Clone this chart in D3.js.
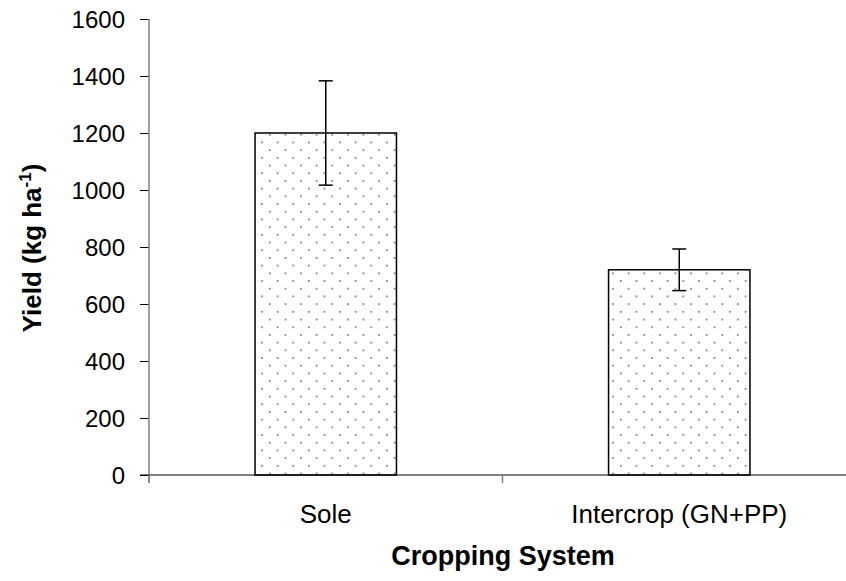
<!DOCTYPE html>
<html><head><meta charset="utf-8">
<script src="https://cdn.jsdelivr.net/npm/d3@7"></script>
<style>body{margin:0;background:#fff}svg{display:block}text{font-family:"Liberation Sans",Arial,sans-serif}</style>
</head><body><svg id="c" width="846" height="581"></svg>
<script>
const categories = ["Sole", "Intercrop (GN+PP)"];
const yieldValues = [1200, 720];
const errorValues = [183, 73];
const yTicks = [0, 200, 400, 600, 800, 1000, 1200, 1400, 1600];

(function(){
const svg = d3.select("#c");
const mL = 149, mR = 856, mT = 19, mB = 475;
const x = d3.scaleBand().domain(categories).range([mL, mR]).paddingInner(0.6).paddingOuter(0.3);
const y = d3.scaleLinear().domain([0, 1600]).range([mB, mT]);

const defs = svg.append("defs");
const pat = defs.append("pattern").attr("id","dots").attr("patternUnits","userSpaceOnUse")
  .attr("width",15.6).attr("height",15.4).attr("x",mL).attr("y",0);
pat.append("rect").attr("width",15.6).attr("height",15.4).attr("fill","#fff");
pat.append("rect").attr("x",3).attr("y",3).attr("width",1.6).attr("height",1.6).attr("fill","#666");
pat.append("rect").attr("x",10.8).attr("y",10.7).attr("width",1.6).attr("height",1.6).attr("fill","#666");

svg.selectAll(".bar").data(categories).enter().append("rect")
  .attr("x", d => x(d)).attr("width", x.bandwidth())
  .attr("y", (d,i) => y(yieldValues[i])).attr("height", (d,i) => y(0) - y(yieldValues[i]))
  .attr("fill","url(#dots)").attr("stroke","#000").attr("stroke-width",1.5);

const yAxis = svg.append("g").attr("transform",`translate(${mL},0)`)
  .call(d3.axisLeft(y).tickValues(yTicks).tickFormat(d3.format("d")).tickSize(9).tickPadding(15));
yAxis.select(".domain").remove();
yAxis.append("line").attr("x1",0).attr("x2",0).attr("y1",mT).attr("y2",mB+8)
  .attr("stroke","#808080").attr("stroke-width",1.5);
yAxis.selectAll(".tick line").attr("stroke","#000").attr("stroke-width",1);
yAxis.selectAll(".tick text").attr("font-size",24).attr("fill","#000").attr("dy","0.35em");

const xAxis = svg.append("g").attr("transform",`translate(0,${mB})`);
xAxis.append("line").attr("x1",mL-9).attr("x2",846).attr("y1",0).attr("y2",0).attr("stroke","#000").attr("stroke-width",1.2);
const boundaries = [mL, (x(categories[0])+x.bandwidth()+x(categories[1]))/2, mR];
xAxis.selectAll(".xt").data(boundaries).enter().append("line")
  .attr("x1",d=>d).attr("x2",d=>d).attr("y1",0).attr("y2",8).attr("stroke","#808080").attr("stroke-width",1.5);
xAxis.selectAll(".xl").data(categories).enter().append("text")
  .attr("x", d => x(d) + x.bandwidth()/2).attr("y", 48).attr("text-anchor","middle")
  .attr("font-size",26).attr("fill","#000").text(d => d);

const eb = svg.append("g").attr("stroke","#000").attr("stroke-width",1.5);
categories.forEach((c,i) => {
  const cx = x(c) + x.bandwidth()/2;
  eb.append("line").attr("x1",cx).attr("x2",cx).attr("y1",y(yieldValues[i]+errorValues[i])).attr("y2",y(yieldValues[i]-errorValues[i]));
  [yieldValues[i]+errorValues[i], yieldValues[i]-errorValues[i]].forEach(v => {
    eb.append("line").attr("x1",cx-7).attr("x2",cx+7).attr("y1",y(v)).attr("y2",y(v));
  });
});

svg.append("text").attr("x",503).attr("y",565).attr("text-anchor","middle")
  .attr("font-size",27).attr("font-weight","bold").text("Cropping System");
const yt = svg.append("text").attr("transform","translate(41,248) rotate(-90)").attr("text-anchor","middle")
  .attr("font-size",26).attr("font-weight","bold");
yt.append("tspan").text("Yield (kg ha");
yt.append("tspan").attr("font-size",17).attr("dy",-10).text("-1");
yt.append("tspan").attr("dy",10).text(")");
})();
</script></body></html>
